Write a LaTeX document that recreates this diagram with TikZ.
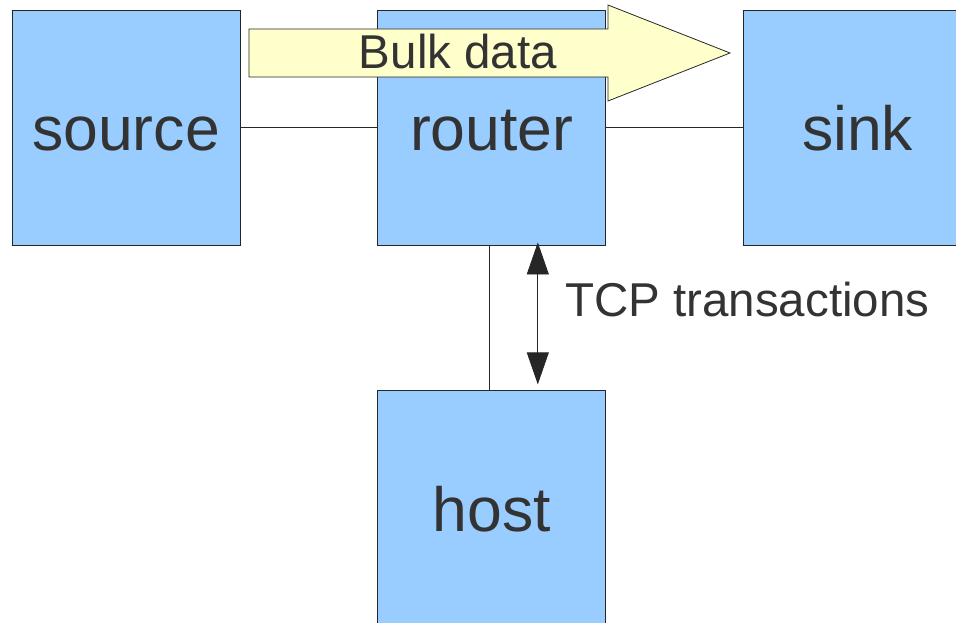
\documentclass[tikz,border=0pt]{standalone}
\usepackage{fontspec}
\setmainfont{Liberation Sans}
\usetikzlibrary{positioning,arrows.meta}

\definecolor{boxblue}{HTML}{99CCFF}
\definecolor{bulkyellow}{HTML}{FFFFCC}
\definecolor{inkgray}{HTML}{333333}

\begin{document}
\begin{tikzpicture}[
		x=1pt, y=-1pt,
		>={Triangle[length=32pt, width=22pt]},
		unit/.style={rectangle, draw=black!85, fill=boxblue, line width=0.8pt,
				minimum width=228pt, minimum height=235pt, inner sep=0pt,
				text height=46pt, text depth=0pt,
				text=inkgray, font=\fontsize{62.5}{62.5}\selectfont},
		link/.style={draw=black!85, line width=0.8pt},
		bulk/.style={draw=black!85, fill=bulkyellow, line width=0.8pt},
		note/.style={text=inkgray, inner sep=0pt, font=\fontsize{47.5}{47.5}\selectfont}
	]
	\clip (0,0) rectangle (956,623);

	% the four boxes
	\node[unit] (source) at (126,127.5) {source};
	\node[unit, right=137pt of source] (router) {router};
	\node[unit, right=137pt of router] (sink) {sink};
	\node[unit, below=145pt of router] (host) {host};

	% wires between them
	\draw[link] (source) -- (router);
	\draw[link] (router) -- (sink);
	\draw[link] ([xshift=-2pt]router.south) -- ([xshift=-2pt]host.north);

	% bulk traffic passing through the router
	\draw[bulk] (249,29) -- (608,29) -- (608,5) -- (730,53)
		-- (608,101) -- (608,77) -- (249,77) -- cycle;
	\node[note] (bulklabel) at (458,52) {Bulk data};

	% control traffic between router and host
	\draw[link, <->] ([xshift=46pt, yshift=3pt]router.south)
		-- ([xshift=46pt, yshift=6pt]host.north);
	\node[note, anchor=west] (tcp) at (565,300) {TCP transactions};
\end{tikzpicture}
\end{document}
